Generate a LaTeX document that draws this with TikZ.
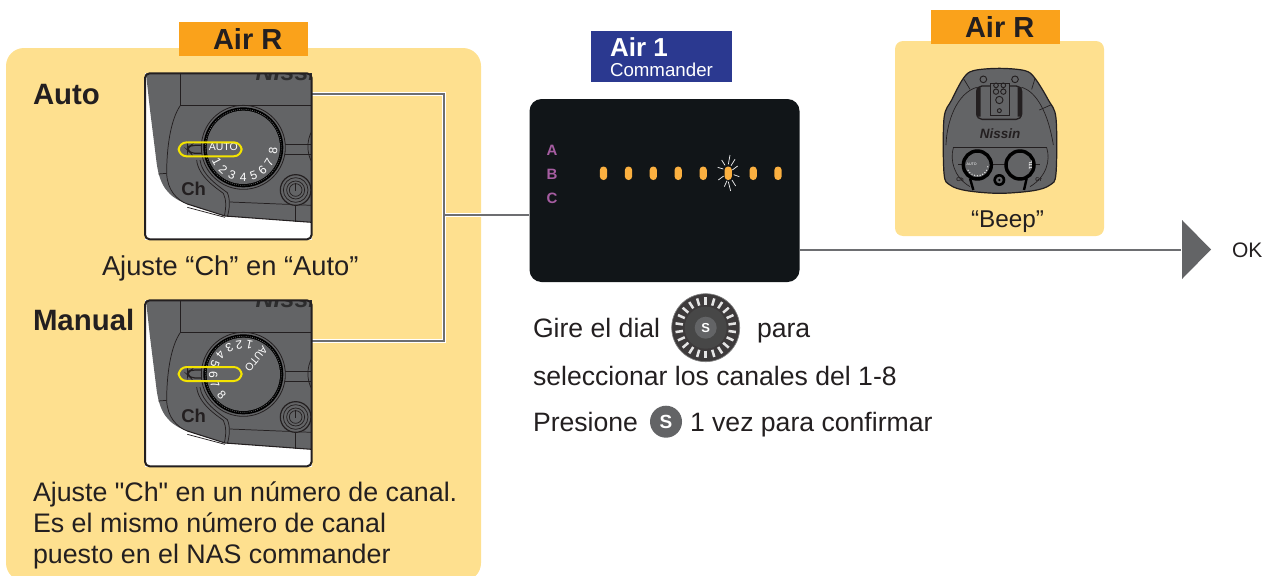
\documentclass[tikz,border=0pt]{standalone}
\usepackage{fontspec}
\setmainfont{Liberation Sans}
\newfontfamily\plainf{Liberation Sans}
\usetikzlibrary{calc}
\definecolor{cream}{HTML}{FEE08F}
\definecolor{orangebar}{HTML}{FAA21B}
\definecolor{navy}{HTML}{2B3990}
\definecolor{lcd}{HTML}{111518}
\definecolor{led}{HTML}{FBB040}
\definecolor{grayface}{HTML}{636466}
\definecolor{inkdark}{HTML}{231F20}
\definecolor{linegray}{HTML}{6D6E71}
\definecolor{purp}{HTML}{A65DA1}
\definecolor{pill}{HTML}{F4E400}
\newcommand{\px}[1]{\fontsize{\fpeval{#1*0.75}pt}{\fpeval{#1*0.9}pt}\selectfont}
\tikzset{
  txt/.style={anchor=base west,inner sep=0pt,outer sep=0pt,text=inkdark},
  backbar/.style={fill=orangebar,draw=none},
  devline/.style={draw=inkdark,line width=0.55pt},
  halo/.style={draw=white,line width=2.6pt},
  wire/.style={draw=linegray,line width=1.1pt},
  ledmark/.style={fill=led,rounded corners=2.6pt,draw=none},
  panelbox/.style={draw=none,fill=white,minimum width=125.2pt,minimum height=125.2pt,inner sep=0pt,outer sep=0pt}
}
\newcommand{\campanel}[4]{%
  % #1 name, #2 y shift, #3 rotation, #4 pill y
  \node[panelbox] (#1) at (228.3,#2+96.3) {};
  \begin{scope}[shift={(130,#2)},scale=1/3]
    \begin{scope}
      \clip (48,40) rectangle (543,536);
      \fill[grayface] (48,40) -- (545,40) -- (545,487) -- (285,468) -- (170,432)
        .. controls (115,410) and (90,380) .. (80,310) -- (60,150) -- cycle;
      \node[anchor=base west,inner sep=0pt,text=grayface!45!black] (#1n) at (376,61) {\px{25}\bfseries\itshape Nissin};
      \draw[devline] (152,40) -- (152,135) -- (545,135);
      \draw[devline] (152,135) .. controls (120,180) and (110,270) .. (110,340)
        .. controls (112,390) and (140,420) .. (172,432);
      \draw[devline] (85,342) -- (110,340);
      \draw[devline,line width=0.8pt] (172,432) -- (285,468) -- (545,487);
      \draw[devline] (172,442) -- (285,472);
      \draw[devline] (460,253) -- (545,253) (460,284) -- (545,284);
      \draw[devline] (300,426) -- (545,436);
      \draw[devline] (497,436) -- (497,487);
      \draw[devline] (545,215) .. controls (530,240) and (530,280) .. (545,305);
      \draw[devline] (200,300) .. controls (205,350) and (260,385) .. (280,400) .. controls (290,420) and (288,445) .. (283,468);
      \draw[devline] (210,300) .. controls (215,345) and (265,378) .. (292,398) .. controls (302,420) and (298,450) .. (292,470);
      % power button
      \fill[grayface] (497,390) circle (48);
      \draw[devline,line width=0.9pt] (497,390) circle (46);
      \draw[devline] (497,390) circle (37);
      \draw[devline] (497,390) circle (27);
      \draw[devline] (497,390) circle (19);
      \draw[inkdark,line width=0.9pt] (497,368) -- (497,392);
    \end{scope}
    % slot
    \draw[inkdark,line width=0.9pt,fill=grayface,rounded corners=3pt] (240,#4-12) -- (183,#4-12) -- (173,#4-6) -- (173,#4+2) -- (183,#4+12) -- (240,#4+12) -- cycle;
    % dial
    \draw[inkdark,fill=grayface,line width=0.6pt] (340,262) circle (126);
    \fill[black] (340,262) circle (120);
    \draw[grayface,line width=0.5pt,dash pattern=on 0.7pt off 0.9pt] (340,262) circle (114);
    \fill[grayface] (340,262) circle (110);
    \node[inner sep=0pt,text=white,rotate=#3] (#1auto) at ($(340,262)+({-(180+#3)}:60)$) {\px{10.5}AUTO};
    \foreach \d/\a in {1/208,2/228,3/248,4/270,5/290,6/310,7/329,8/354}{
      \node[inner sep=0pt,text=white,rotate={\a-270+#3}] at ($(340,262)+({-(\a+#3)}:90)$) {\px{12}\d};
    }
    % Ch
    \node[anchor=base west,inner sep=0pt,text=inkdark] (#1ch) at (153,406) {\px{18.5}\bfseries Ch};
    % pill
    \draw[pill,line width=1.5pt,rounded corners=6pt] (146,#4-21) rectangle (335,#4+21);
    % outline
    \draw[inkdark,line width=1.5pt,rounded corners=3.5pt] (45,40) rectangle (545,538);
  \end{scope}
}
\begin{document}
\begin{tikzpicture}[x=0.75pt,y=-0.75pt]
\useasboundingbox (0,0) rectangle (1273,575);
% left card
\begin{scope}
  \clip (0,0) rectangle (1273,575);
  \fill[cream,rounded corners=13.5pt] (6,48) rectangle (481,581);
\end{scope}
\node[backbar,minimum width=96.75pt,minimum height=25.5pt,inner sep=0pt] (barl) at (243.5,39) {};
\node[txt,font=\bfseries] (barltxt) at (213,49) {\px{29}Air R};
\node[txt,font=\bfseries] (auto) at (33,104) {\px{29.4}Auto};
\node[txt,font=\bfseries] (manual) at (33,330) {\px{29.4}Manual};

% connectors
\coordinate (a1) at (312,94);
\coordinate (a2) at (312,341);
\coordinate (k1) at (444,94);
\coordinate (k2) at (444,341);
\coordinate (km) at (444,215);
\node[fill=lcd,rounded corners=9pt,minimum width=202.5pt,minimum height=137.25pt,inner sep=0pt] (lcdp) at (664.5,190.5) {};
\draw[halo] (a1) -- (k1) -- (k2) -- (a2);
\draw[wire] (a1) -- (k1) -- (k2) -- (a2);
\fill[white] ($(km)+(1,-1.7)$) rectangle (lcdp.west |- {0,216.7});
\draw[wire,line width=1.1pt] (km) -- (km -| lcdp.west);

\campanel{pauto}{60}{0}{268}
\campanel{pmanual}{287}{-130}{261}

\node[txt] (t1) at (102,275) {\px{27.3}Ajuste “Ch” en “Auto”};
\node[txt] (t2) at (33,501) {\plainf\px{26.8}Ajuste "Ch" en un número de canal.};
\node[txt] (t3) at (33,532) {\px{26.8}Es el mismo número de canal};
\node[txt] (t4) at (33,563) {\px{26.8}puesto en el NAS commander};

% Air 1
\node[fill=navy,minimum width=105.75pt,minimum height=38.25pt,inner sep=0pt] (air1) at (661.5,56.5) {};
\node[txt,text=white,font=\bfseries] (air1a) at (610,56) {\px{26}Air 1};
\node[txt,text=white] (air1b) at (610,76) {\px{18.7}Commander};

% LCD contents
\foreach \l/\yy in {A/155,B/179,C/203}{
  \node[txt,text=purp,font=\bfseries,anchor=base] at (552,\yy) {\px{15}\l};
}
\foreach \xx in {603.5,628.5,653.3,678.2,703.2,728.2,753.2,778}{
  \fill[ledmark] (\xx-3.6,166.5) rectangle (\xx+3.6,180);
}
\begin{scope}[shift={(525,130)},scale=1/3]
  \draw[white!85!gray,line width=0.55pt]
    (615,75)--(610,103) (630,88)--(618,107) (638,108)--(622,120) (643,140)--(626,134)
    (632,168)--(621,150) (617,183)--(610,155) (598,170)--(606,152) (580,150)--(596,138)
    (578,112)--(595,117) (590,90)--(600,106);
\end{scope}

% right card
\fill[cream,rounded corners=6pt] (895,41) rectangle (1104,236);
\node[backbar,minimum width=96.75pt,minimum height=25.5pt,inner sep=0pt] (barr) at (995.5,27) {};
\node[txt,font=\bfseries] (barrtxt) at (965,37) {\px{29}Air R};
\node[txt] (beep) at (971,227) {\px{24.3}“Beep”};

% device
\begin{scope}[shift={(920,50)},scale=1/3]
  \draw[inkdark,fill=grayface,line width=0.9pt] plot[smooth cycle,tension=0.55] coordinates {(238,55) (160,62) (130,85) (95,150) (72,205) (72,370) (90,405) (140,422) (238,430) (340,422) (390,405) (408,370) (408,205) (385,150) (345,85) (315,62)};
  \draw[devline,line width=0.5pt] (78,285) .. controls (80,215) and (110,130) .. (170,112);
  \draw[devline,line width=0.5pt] (305,112) .. controls (350,125) and (385,190) .. (400,285);
  \draw[devline,line width=0.5pt] (130,85) -- (150,118) (345,85) -- (335,118) (358,180) -- (392,165);
  \draw[inkdark,line width=1pt,rounded corners=4pt] (170,108) rectangle (305,208);
  \fill[inkdark] (170,112) rectangle (182,200) (293,112) rectangle (305,200);
  \draw[inkdark,line width=0.7pt,fill=grayface] (210,100) rectangle (268,195);
  \draw[inkdark,line width=0.7pt] (190,88) circle (10) (285,88) circle (10) (228,106) circle (7) (250,106) circle (7) (228,125) circle (8) (250,125) circle (8) (238,150) circle (11) (238,182) circle (6);
  \node[inner sep=0pt,text=inkdark] (devname) at (240,250) {\px{13.5}\bfseries\itshape Nissin};
  \draw[devline,line width=0.5pt] (100,293) -- (380,293);
  \draw[devline,line width=0.5pt] (100,293) .. controls (90,330) and (100,380) .. (150,410);
  \draw[devline,line width=0.5pt] (380,293) .. controls (392,330) and (380,380) .. (330,410);
  \draw[inkdark,line width=0.7pt] (115,343) -- (360,343);
  \draw[black,line width=2.6pt,fill=grayface] (172,345) circle (42);
  \draw[black,line width=2.6pt,fill=grayface] (300,345) circle (42);
  \draw[black,line width=1.8pt] (150,385) -- (160,420) (320,385) -- (312,420);
  \fill[black] (238,390) circle (18);
  \fill[grayface] (238,390) circle (10);
  \fill[black] (238,390) circle (4);
  \node[inner sep=0pt,text=white] (devauto) at (155,344) {\px{3.6}AUTO};
  \foreach \a in {210,225,240,255,270,285,300,315,330,350}{
    \fill[white!80!gray] ($(172,345)+({-\a}:32)$) circle (2.2);
  }
  \node[inner sep=0pt,text=white,rotate=90] (devttl) at (332,345) {\px{4.5}\bfseries TTL};
  \node[inner sep=0pt,text=inkdark] (devch) at (120,390) {\px{5.5}\bfseries Ch};
  \node[inner sep=0pt,text=inkdark] (devgr) at (356,390) {\px{5.5}\bfseries Gr};
\end{scope}

% arrow
\node[inner sep=0pt] (tipbase) at (1182,250) {};
\node[txt] (ok) at (1232,257) {\px{21}OK};
\draw[line width=1.1pt,draw=linegray] (lcdp.east |- tipbase) -- (tipbase);
\fill[grayface] (1182,220) -- (1211,249.5) -- (1182,279) -- cycle;

% instructions
\node[txt] (g1) at (533,337) {\px{26.6}Gire el dial};
\node[txt] (g2) at (757,337) {\px{26.6}para};
\node[txt] (g3) at (533,385) {\px{26.6}seleccionar los canales del 1-8};
\node[txt] (g4) at (533,431) {\px{26.6}Presione};
\node[txt] (g5) at (690,431) {\px{26.6}1 vez para confirmar};

% big dial
\node[circle,fill=inkdark!88!white,draw=gray,line width=0.5pt,minimum size=51pt,inner sep=0pt] (bigdial) at (705.7,327.7) {};
\foreach \i in {0,...,21}{
  \draw[white!80!gray,line width=1.9pt] ($(bigdial.center)+({90+\i*360/22}:23)$) -- ($(bigdial.center)+({90+\i*360/22}:30.5)$);
}
\fill[black!72!white] (bigdial.center) circle (21);
\node[circle,fill=grayface,minimum size=16.5pt,inner sep=0pt,text=white,font=\bfseries] (sdial) at (bigdial.center) {\px{13}S};
\node[circle,fill=grayface,minimum size=24pt,inner sep=0pt,text=white,font=\bfseries] (sbtn) at (666,421.7) {\px{19}S};
\end{tikzpicture}
\end{document}
